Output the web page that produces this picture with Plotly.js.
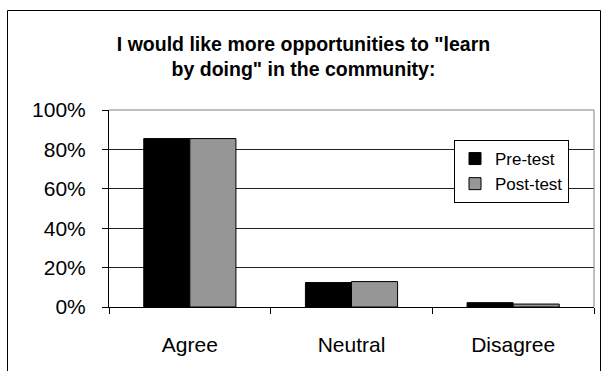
<!DOCTYPE html>
<html>
<head>
<meta charset="utf-8">
<script src="https://cdn.plot.ly/plotly-3.0.1.min.js"></script>
<style>html,body{margin:0;padding:0;background:#fff;}#chart{width:607px;height:371px;}</style>
</head>
<body>
<div id="chart"></div>
<script>
const categories = ["Agree", "Neutral", "Disagree"];
const preTest = [0.855, 0.124, 0.022];
const postTest = [0.855, 0.129, 0.015];
const seriesNames = ["Pre-test", "Post-test"];
const yTickVals = [0, 0.2, 0.4, 0.6, 0.8, 1.0];
const yTickText = ["0%", "20%", "40%", "60%", "80%", "100%"];

const FONT = "Arial, 'Liberation Sans', sans-serif";
const W = 607, H = 371;
const M = {l: 109, r: 13, t: 110, b: 64};
const pw = W - M.l - M.r, ph = H - M.t - M.b;
const px = v => (v - M.l) / pw;
const py = v => (H - M.b - v) / ph;

const traces = [
  {type: "bar", name: seriesNames[0], x: categories, y: preTest,
   marker: {color: "#000000", line: {color: "#000000", width: 1}}, hoverinfo: "skip"},
  {type: "bar", name: seriesNames[1], x: categories, y: postTest,
   marker: {color: "#969696", line: {color: "#000000", width: 1}}, hoverinfo: "skip"}
];

const layout = {
  width: W, height: H,
  margin: M,
  paper_bgcolor: "#ffffff", plot_bgcolor: "#ffffff",
  font: {family: FONT, color: "#000000"},
  title: {
    text: "I would like more opportunities to \"learn<br>by doing\" in the community:",
    font: {family: FONT, size: 19.5, weight: "bold", color: "#000000"},
    xref: "container", x: 0.5, xanchor: "center",
    yref: "container", y: 1 - 51 / H, yanchor: "top"
  },
  barmode: "group", bargap: 0.43, bargroupgap: 0,
  showlegend: true,
  legend: {
    x: px(569), xanchor: "right", y: py(140), yanchor: "top",
    bgcolor: "#ffffff", bordercolor: "#000000", borderwidth: 1,
    font: {family: FONT, size: 17, color: "#000000"},
    tracegroupgap: 0, itemwidth: 30
  },
  xaxis: {
    type: "category", showline: true, linecolor: "#000000", linewidth: 1,
    ticks: "outside", tickson: "boundaries", ticklen: 6, tickcolor: "#000000",
    showgrid: false, zeroline: false,
    tickfont: {family: FONT, size: 21, color: "#000000"},
    ticklabelstandoff: 19, fixedrange: true
  },
  yaxis: {
    range: [0, 1], tickvals: yTickVals, ticktext: yTickText,
    showline: true, linecolor: "#000000", linewidth: 1,
    ticks: "outside", ticklen: 6, tickcolor: "#000000",
    showgrid: true, gridcolor: "#222222", gridwidth: 1, zeroline: false,
    tickfont: {family: FONT, size: 21, color: "#000000"},
    ticklabelstandoff: 12, fixedrange: true
  },
  shapes: [
    {type: "line", xref: "paper", yref: "paper", x0: 0, x1: 1, y0: 1, y1: 1,
     line: {color: "#808080", width: 1}, layer: "above"},
    {type: "line", xref: "paper", yref: "paper", x0: 1, x1: 1, y0: 0, y1: 1,
     line: {color: "#808080", width: 1}, layer: "above"},
    {type: "rect", xref: "paper", yref: "paper",
     x0: px(7.5), x1: px(600.5), y0: py(400), y1: py(10.5),
     line: {color: "#000000", width: 1}, fillcolor: "rgba(0,0,0,0)", layer: "above"}
  ]
};

Plotly.newPlot("chart", traces, layout, {displayModeBar: false, staticPlot: true});
</script>
</body>
</html>
